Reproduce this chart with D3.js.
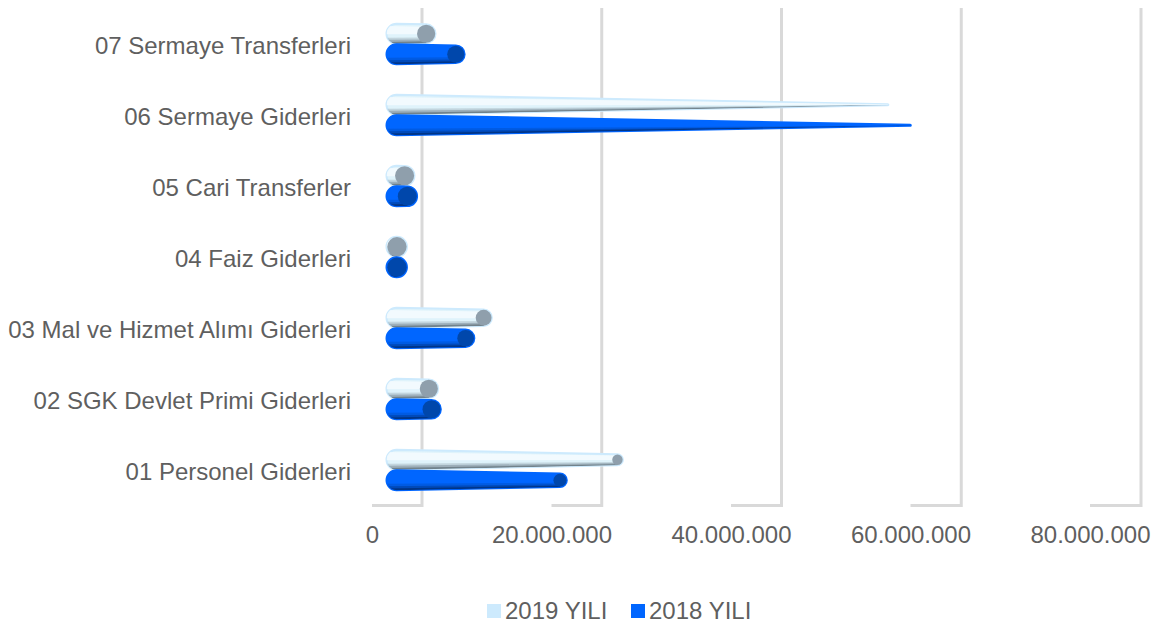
<!DOCTYPE html>
<html>
<head>
<meta charset="utf-8">
<script src="https://cdn.jsdelivr.net/npm/d3@7"></script>
<style>
  html, body { margin: 0; padding: 0; background: #fff; }
  text { font-family: "Liberation Sans", Arial, sans-serif; fill: #5f5f5f; }
</style>
</head>
<body>
<div id="chart"></div>
<script>
const categories = ["07 Sermaye Transferleri", "06 Sermaye Giderleri", "05 Cari Transferler",
    "04 Faiz Giderleri", "03 Mal ve Hizmet Alımı Giderleri", "02 SGK Devlet Primi Giderleri",
    "01 Personel Giderleri"];
const seriesNames = ["2019 YILI", "2018 YILI"];
const values2019 = [3300000, 54700000, 900000, 50000, 9700000, 3600000, 24600000];
const values2018 = [6600000, 57200000, 1200000, 50000, 7700000, 3900000, 18200000];
const ticks = [0, 20000000, 40000000, 60000000, 80000000];

const width = 1158, height = 622;

const svg = d3.select("#chart").append("svg")
    .attr("width", width)
    .attr("height", height)
    .style("display", "block");

// the 3d look: front of floor, bar plane and back wall are the same scale shifted
const xFront = d3.scaleLinear().domain([0, 80000000]).range([372, 1090]);
const xBars = d3.scaleLinear().domain([0, 80000000]).range([396.5, 1115]);
const xBack = d3.scaleLinear().domain([0, 80000000]).range([422, 1141]);

const y = d3.scaleBand().domain(categories).range([8.5, 505.5]);
const yInner = d3.scaleBand().domain(seriesNames).range([15, 56]);

const styles = {
    "2019 YILI": { id: "c2019", body: "#dff3fb", stroke: "#cdeafd", cap: "#8f9fac", swatch: "#cdeafd",
        bands: [[-0.75, 0.05, "#f4fbfe", 0.9], [0.4, 1, "#9fb1bb", 0.45], [0.6, 1, "#8496a1", 0.6], [0.8, 1, "#66777f", 0.8]] },
    "2018 YILI": { id: "c2018", body: "#0066ff", stroke: "#0066ff", cap: "#0047ab", swatch: "#0066ff",
        bands: [[0.35, 1, "#0050c8", 0.5], [0.6, 1, "#003f9e", 0.6], [0.8, 1, "#002f7a", 0.8]] }
};

// grid: short floor piece then the wall line
const grid = svg.append("g");
ticks.forEach(t => {
    grid.append("path")
        .attr("d", d3.line()([[xFront(t), 505.5], [xBack(t), 505.5], [xBack(t), 8]]))
        .attr("fill", "none")
        .attr("stroke", "#d9d9d9")
        .attr("stroke-width", 3);
});

// category labels
svg.append("g").selectAll("text")
    .data(categories)
    .enter()
    .append("text")
    .attr("x", 351)
    .attr("y", d => y(d) + 45)
    .attr("text-anchor", "end")
    .style("font-size", "24px")
    .text(d => d);

// x tick labels
const fmt = d3.formatLocale({ decimal: ",", thousands: ".", grouping: [3], currency: ["", ""] }).format(",d");
const axis = svg.append("g")
    .attr("transform", "translate(0,516)")
    .call(d3.axisBottom(xFront).tickValues(ticks).tickFormat(fmt).tickSize(0).tickPadding(10));
axis.select(".domain").remove();
axis.selectAll("text").style("font-size", "24px").attr("font-family", null);

// tapered bars, radius shrinks with the value down to the biggest one of the series
const baseRadius = 10;
const drawSeries = (name, vals) => {
    const st = styles[name];
    const maxV = d3.max(vals);
    const g = svg.append("g");
    vals.forEach((v, i) => {
        const cy = y(categories[i]) + yInner(name) + yInner.bandwidth() / 2;
        const x0 = xBars(0), x1 = xBars(v);
        const r1 = Math.max(0.6, baseRadius * (1 - v / maxV));
        const p = d3.path();
        p.moveTo(x0, cy - baseRadius);
        p.lineTo(x1, cy - r1);
        p.arc(x1, cy, r1, -Math.PI / 2, Math.PI / 2);
        p.lineTo(x0, cy + baseRadius);
        p.arc(x0, cy, baseRadius, Math.PI / 2, -Math.PI / 2);
        p.closePath();
        g.append("path")
            .attr("d", p.toString())
            .attr("fill", st.body)
            .attr("stroke", st.stroke)
            .attr("stroke-width", 2);

        const clipId = `${st.id}-${i}`;
        svg.append("clipPath").attr("id", clipId)
            .append("path").attr("d", p.toString());

        // shading bands follow the taper, clipped so the round left end stays round
        const xl = x0 - baseRadius;
        const slope = (baseRadius - r1) / Math.max(x1 - x0, 1);
        const radiusAtLeft = baseRadius + slope * baseRadius;
        st.bands.forEach(b => {
            const band = d3.line()([
                [xl, cy + radiusAtLeft * b[0]], [x1, cy + r1 * b[0]],
                [x1, cy + r1 * b[1]], [xl, cy + radiusAtLeft * b[1]]
            ]) + "Z";
            g.append("path")
                .attr("d", band)
                .attr("clip-path", `url(#${clipId})`)
                .attr("fill", b[2])
                .attr("opacity", b[3]);
        });
        if (r1 > 1) {
            g.append("circle")
                .attr("cx", x1)
                .attr("cy", cy)
                .attr("r", r1 - 0.3)
                .attr("fill", st.cap);
        }
    });
};
drawSeries("2019 YILI", values2019);
drawSeries("2018 YILI", values2018);

// legend
const legendX = { "2019 YILI": 487, "2018 YILI": 631 };
const legend = svg.append("g");
seriesNames.forEach(name => {
    legend.append("rect")
        .attr("x", legendX[name])
        .attr("y", 604)
        .attr("width", 14)
        .attr("height", 14)
        .attr("fill", styles[name].swatch);
    legend.append("text")
        .attr("x", legendX[name] + 18)
        .attr("y", 619)
        .style("font-size", "24px")
        .text(name);
});
</script>
</body>
</html>
